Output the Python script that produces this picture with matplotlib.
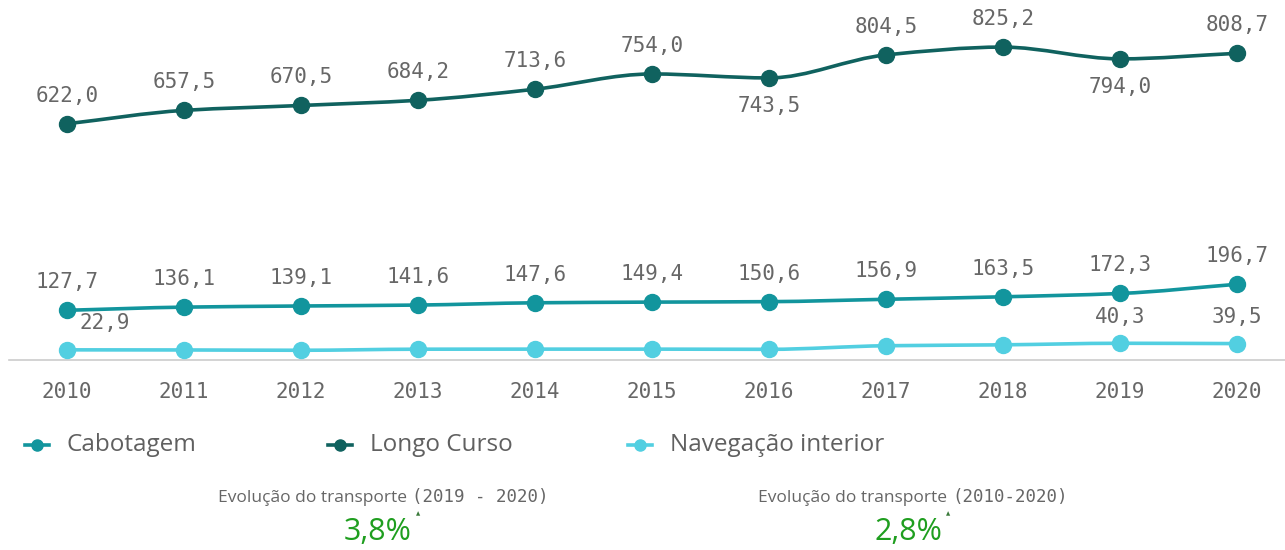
import numpy as np
import matplotlib
matplotlib.use("Agg")
import matplotlib.pyplot as plt
from matplotlib.path import Path
from matplotlib.patches import PathPatch
from matplotlib.lines import Line2D
from matplotlib.offsetbox import TextArea, HPacker, AnnotationBbox

anos = ["2010", "2011", "2012", "2013", "2014", "2015",
        "2016", "2017", "2018", "2019", "2020"]

longo_curso = [622.0, 657.5, 670.5, 684.2, 713.6, 754.0,
               743.5, 804.5, 825.2, 794.0, 808.7]
cabotagem = [127.7, 136.1, 139.1, 141.6, 147.6, 149.4,
             150.6, 156.9, 163.5, 172.3, 196.7]
navegacao = [22.9, 22.6, 21.8, 24.6, 24.8, 24.8,
             24.3, 33.8, 36.2, 40.3, 39.5]

# rótulos visíveis da navegação interior (índices)
nav_rotulos = [0, 9, 10]
# rótulos do longo curso que ficam por baixo do ponto
longo_abaixo = [6, 9]

kpi_titulos = [("Evolução do transporte ", "(2019 - 2020)"),
               ("Evolução do transporte ", "(2010-2020)")]
kpi_valores = ["3,8%", "2,8%"]

cor_longo = "#10625f"
cor_cabot = "#12959d"
cor_nav = "#52cfe1"
cinza = "#676767"

mono = "DejaVu Sans Mono"
sans = "Open Sans"

W, H = 1285, 550


def curva_monotona(x, y):
    # spline cúbica monótona (Fritsch-Carlson) convertida em Béziers
    x = np.asarray(x, float)
    y = np.asarray(y, float)
    h = np.diff(x)
    d = np.diff(y) / h
    m = np.zeros_like(y)
    m[0], m[-1] = d[0], d[-1]
    for i in range(1, len(y) - 1):
        if d[i - 1] * d[i] <= 0:
            m[i] = 0.0
        else:
            w1 = 2 * h[i] + h[i - 1]
            w2 = h[i] + 2 * h[i - 1]
            m[i] = (w1 + w2) / (w1 / d[i - 1] + w2 / d[i])
    verts = [(x[0], y[0])]
    codes = [Path.MOVETO]
    for i in range(len(x) - 1):
        verts += [(x[i] + h[i] / 3, y[i] + m[i] * h[i] / 3),
                  (x[i + 1] - h[i] / 3, y[i + 1] - m[i + 1] * h[i] / 3),
                  (x[i + 1], y[i + 1])]
        codes += [Path.CURVE4] * 3
    return Path(verts, codes)


fig = plt.figure(figsize=(W / 100, H / 100), dpi=100)
ax = fig.add_axes([9 / W, 190 / H, 1276 / W, 360 / H])

xs = np.arange(len(anos))
series = [(navegacao, cor_nav), (cabotagem, cor_cabot), (longo_curso, cor_longo)]
for valores, cor in series:
    ax.add_patch(PathPatch(curva_monotona(xs, valores), facecolor="none",
                           edgecolor=cor, lw=2.6, capstyle="round"))
    ax.plot(xs, valores, "o", color=cor, ms=11.5, zorder=3)


def fmt(v):
    return f"{v:.1f}".replace(".", ",")


for i, v in enumerate(longo_curso):
    if i in longo_abaixo:
        ax.annotate(fmt(v), (xs[i], v), xytext=(0, -13), textcoords="offset points",
                    ha="center", va="top", fontsize=15, family=mono, color=cinza)
    else:
        ax.annotate(fmt(v), (xs[i], v), xytext=(0, 13), textcoords="offset points",
                    ha="center", va="bottom", fontsize=15, family=mono, color=cinza)

for i, v in enumerate(cabotagem):
    ax.annotate(fmt(v), (xs[i], v), xytext=(0, 13), textcoords="offset points",
                ha="center", va="bottom", fontsize=15, family=mono, color=cinza)

for i in nav_rotulos:
    dx = 27 if i == 0 else 0
    ax.annotate(fmt(navegacao[i]), (xs[i], navegacao[i]), xytext=(dx, 12),
                textcoords="offset points", ha="center", va="bottom",
                fontsize=15, family=mono, color=cinza)

ax.set_xlim(-0.496, 10.41)
ax.set_ylim(-4, 950)
ax.set_xticks(xs)
ax.set_xticklabels(anos, family=mono, fontsize=15, color=cinza)
ax.tick_params(axis="x", length=0, pad=16)
ax.set_yticks([])
for lado in ["top", "right", "left"]:
    ax.spines[lado].set_visible(False)
ax.spines["bottom"].set_color("#cccccc")
ax.spines["bottom"].set_linewidth(1.2)

# legenda desenhada à mão: (nome, cor, centro do marcador em px)
entradas = [("Cabotagem", cor_cabot, 37), ("Longo Curso", cor_longo, 340),
            ("Navegação interior", cor_nav, 640)]
ly = 1 - 445 / H
for nome, cor, px in entradas:
    fig.add_artist(Line2D([(px - 12) / W, (px + 12) / W], [ly, ly], color=cor,
                          lw=2.6, transform=fig.transFigure))
    fig.add_artist(Line2D([px / W], [ly], marker="o", ms=8, color=cor,
                          transform=fig.transFigure))
    fig.text((px + 30) / W, ly, nome, ha="left", va="center", family=sans,
             fontsize=17.5, color="#606060")

# indicadores
for (titulo, periodo), valor, cx in zip(kpi_titulos, kpi_valores, [383, 913]):
    caixa = HPacker(children=[
        TextArea(titulo, textprops=dict(family=sans, size=12.5, color="#666666")),
        TextArea(periodo, textprops=dict(family=mono, size=12.5, color="#666666")),
    ], pad=0, sep=0, align="baseline")
    fig.add_artist(AnnotationBbox(caixa, (cx / W, 1 - 497 / H),
                                  xycoords="figure fraction", frameon=False,
                                  box_alignment=(0.5, 0.5)))
    fig.text((cx - 5) / W, 1 - 532 / H, valor, ha="center", va="center",
             family=sans, fontsize=22, color="#1f9e1f")
    fig.text((cx + 35) / W, 1 - 514 / H, "▲", ha="center", va="center",
             fontsize=4, color="#3a7a3a", family="DejaVu Sans")

fig.savefig("out.png", dpi=100)
